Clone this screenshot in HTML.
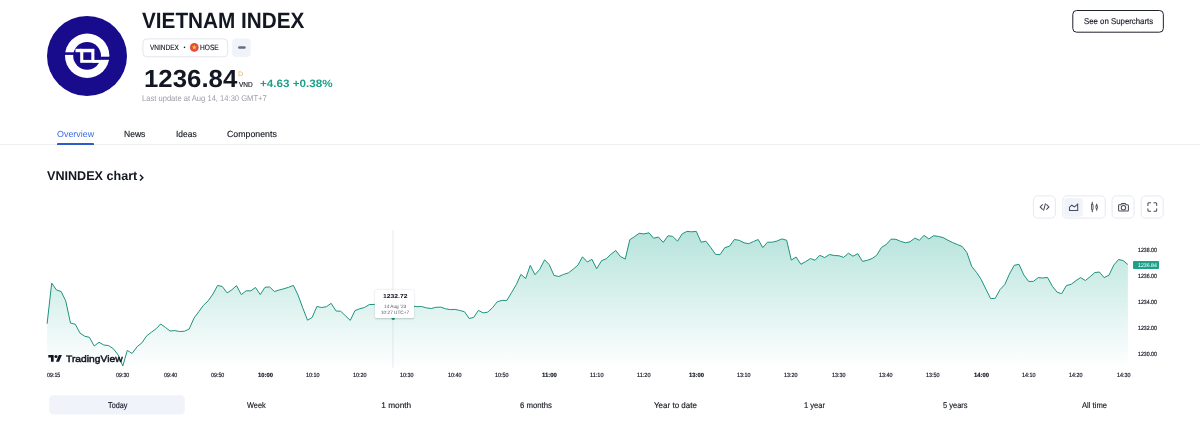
<!DOCTYPE html>
<html lang="en"><head><meta charset="utf-8"><title>VNINDEX — VIETNAM INDEX</title>
<style>
html,body{margin:0;padding:0;background:#fff;}
body{width:1200px;height:432px;position:relative;overflow:hidden;font-family:"Liberation Sans",sans-serif;color:#131722;text-rendering:geometricPrecision;}
.t{position:absolute;white-space:nowrap;display:block;margin:0;padding:0;font-weight:400;transform-origin:0 50%;}
.abs{position:absolute;box-sizing:border-box;}
svg{position:absolute;left:0;top:0;overflow:visible;}
#app{position:absolute;left:0;top:0;width:1200px;height:432px;will-change:transform;filter:blur(0.3px);}
</style></head><body><div id="app">

<header>
<svg width="1200" height="432" viewBox="0 0 1200 432">
<circle cx="87" cy="56" r="40" fill="#180b8c"/>
<circle cx="87.2" cy="55.8" r="22.2" fill="#fff"/>
<circle cx="87.1" cy="55.8" r="13.9" fill="#180b8c"/>
<rect x="64" y="52.3" width="17" height="2.6" fill="#180b8c"/>
<rect x="94" y="56.7" width="17" height="3.1" fill="#180b8c"/>
<rect x="75.5" y="48.8" width="6" height="3.4" fill="#fff"/>
<rect x="93" y="59.9" width="7.5" height="3" fill="#fff"/>
<rect x="80.2" y="48.8" width="14.2" height="14" fill="#fff"/>
<rect x="83.3" y="52.3" width="8" height="7.6" fill="#180b8c"/>
</svg>
<h1 class="t" style="left:142.40px;top:8.02px;font-size:22.09px;line-height:25px;color:#131722;font-weight:700;transform:scaleX(0.9390);">VIETNAM INDEX</h1>
<svg width="1200" height="432" viewBox="0 0 1200 432"><rect x="142.95" y="38.9" width="84.7" height="17.9" rx="4" fill="#fff" stroke="#e2e5ec" stroke-width="1"/><rect x="232.2" y="38.5" width="18.5" height="18.5" rx="4" fill="#f0f3fa"/><rect x="238.1" y="46.15" width="7.6" height="2.7" rx="1.35" fill="#6b6e7a"/><rect x="1072.8" y="10.5" width="90.55" height="21.7" rx="3.8" fill="#fff" stroke="#1e222d" stroke-width="1"/></svg>
<span class="t" style="left:149.62px;top:43.02px;font-size:7.7px;line-height:9px;color:#131722;transform:scaleX(0.8433);-webkit-text-stroke:0.14px #131722;">VNINDEX</span>
<svg width="1200" height="432" viewBox="0 0 1200 432">
<circle cx="184.5" cy="47.35" r="0.8" fill="#131722"/>
<circle cx="194.3" cy="47.4" r="4.35" fill="#e5483c"/>
<path d="M194.3 44.6l0.68 1.9h2l-1.62 1.2 0.6 1.95-1.66-1.18-1.66 1.18 0.6-1.95-1.62-1.2h2z" fill="#fbc740"/>
</svg>
<span class="t" style="left:200.42px;top:43.02px;font-size:7.7px;line-height:9px;color:#131722;transform:scaleX(0.8578);-webkit-text-stroke:0.14px #131722;">HOSE</span>
<span class="t" style="left:143.50px;top:66.02px;font-size:24.71px;line-height:27px;color:#131722;font-weight:700;transform:scaleX(1.0442);">1236.84</span>
<span class="t" style="left:238.27px;top:71.02px;font-size:6.4px;line-height:7px;color:#f5ad62;transform:scaleX(1.1292);">D</span>
<span class="t" style="left:239.42px;top:80.02px;font-size:7.27px;line-height:9px;color:#131722;transform:scaleX(0.8948);-webkit-text-stroke:0.14px #131722;">VND</span>
<span class="t" style="left:259.68px;top:78.02px;font-size:10.61px;line-height:12px;color:#1d9f8a;font-weight:700;transform:scaleX(1.0977);">+4.63 +0.38%</span>
<span class="t" style="left:141.74px;top:94.02px;font-size:8.28px;line-height:9px;color:#9b9ea8;transform:scaleX(0.9183);">Last update at Aug 14, 14:30 GMT+7</span>
<span class="t" style="left:1083.60px;top:16.02px;font-size:8.43px;line-height:10px;color:#131722;transform:scaleX(0.9290);-webkit-text-stroke:0.14px #131722;">See on Supercharts</span>
</header>
<nav>
<span class="t" style="left:56.65px;top:129.02px;font-size:8.87px;line-height:10px;color:#3a6be6;transform:scaleX(1.0058);">Overview</span>
<span class="t" style="left:124.07px;top:129.02px;font-size:8.87px;line-height:10px;color:#131722;transform:scaleX(0.9643);-webkit-text-stroke:0.14px #131722;">News</span>
<span class="t" style="left:175.89px;top:129.02px;font-size:8.87px;line-height:10px;color:#131722;transform:scaleX(0.9525);-webkit-text-stroke:0.14px #131722;">Ideas</span>
<span class="t" style="left:227.11px;top:129.02px;font-size:8.87px;line-height:10px;color:#131722;transform:scaleX(0.9911);-webkit-text-stroke:0.14px #131722;">Components</span>
<div class="abs" style="left:0;top:144px;width:1200px;height:1px;background:#eff0f4;"></div>
<div class="abs" style="left:56.9px;top:142.8px;width:37.1px;height:2.2px;background:#2b5cce;border-radius:1px 1px 0 0;"></div>
</nav>
<main>
<h2 class="t" style="left:47.39px;top:169.02px;font-size:12.65px;line-height:14px;color:#131722;font-weight:700;transform:scaleX(0.9962);">VNINDEX chart</h2>
<svg width="1200" height="432" viewBox="0 0 1200 432"><path d="M140 174.7l2.9 2.95-2.9 2.95" fill="none" stroke="#131722" stroke-width="1.4"/></svg>
<div role="toolbar"><svg width="1200" height="432" viewBox="0 0 1200 432">
<rect x="1033.40" y="195.90" width="22.00" height="22.20" rx="4.2" fill="#fff" stroke="#e6e8ef" stroke-width="1"/>
<rect x="1062.80" y="195.90" width="42.40" height="22.20" rx="4.2" fill="#fff" stroke="#e6e8ef" stroke-width="1"/>
<rect x="1064.20" y="197.95" width="18.60" height="18.70" rx="3" fill="#f0f3fa"/>
<rect x="1112.05" y="195.90" width="22.00" height="22.20" rx="4.2" fill="#fff" stroke="#e6e8ef" stroke-width="1"/>
<rect x="1141.20" y="195.90" width="22.00" height="22.20" rx="4.2" fill="#fff" stroke="#e6e8ef" stroke-width="1"/>
<g fill="none" stroke="#4a4d58" stroke-width="1.05" stroke-linejoin="round" stroke-linecap="round">
<path d="M1042.7 204.3l-2.5 2.65 2.5 2.65M1046.4 204.3l2.5 2.65-2.5 2.65M1045.5 203.3l-1.95 7.3" stroke-linecap="butt" stroke-linejoin="miter"/>
<path d="M1069.5 210.4v-3.2l2.3-2 2.7 1.7 3.2-2.7v6.2z" stroke-linejoin="miter"/>
<path d="M1092.3 202.3v1.9M1092.3 209.8v1.9M1096.7 204v1.6M1096.7 208.6v1.7"/>
<rect x="1091.55" y="204.3" width="1.5" height="5.5" rx="0.3" stroke-width="0.9"/>
<rect x="1095.95" y="205.6" width="1.5" height="3" rx="0.3" stroke-width="0.9"/>
<path d="M1118.6 205.6a0.8 0.8 0 0 1 0.8-0.8h1.5l0.8-1.2h3.6l0.8 1.2h1.5a0.8 0.8 0 0 1 0.8 0.8v4.6a0.8 0.8 0 0 1-0.8 0.8h-8.2a0.8 0.8 0 0 1-0.8-0.8z"/>
<circle cx="1123.45" cy="207.7" r="2.2"/>
<path d="M1147.9 205.4v-1.6a1 1 0 0 1 1-1h1.7M1154 202.8h1.7a1 1 0 0 1 1 1v1.6M1156.7 208.7v1.6a1 1 0 0 1-1 1h-1.7M1150.6 211.3h-1.7a1 1 0 0 1-1-1v-1.6"/>
</g></svg></div>
<svg width="1200" height="432" viewBox="0 0 1200 432">
<defs><linearGradient id="g" gradientUnits="userSpaceOnUse" x1="0" y1="226" x2="0" y2="368">
<stop offset="0" stop-color="#22ab94" stop-opacity="0.34"/><stop offset="1" stop-color="#22ab94" stop-opacity="0"/></linearGradient></defs>
<path d="M47.10,368 L47.10,323.75 L51.70,283.10 L56.50,290.00 L61.10,291.50 L65.70,300.80 L70.50,323.10 L75.25,324.20 L80.00,333.10 L84.80,336.25 L89.40,337.30 L94.20,346.00 L99.00,342.30 L103.80,345.00 L108.60,345.60 L113.40,348.75 L118.20,355.00 L122.75,366.00 L127.30,350.40 L132.10,353.50 L137.10,346.70 L141.90,342.90 L146.70,335.80 L151.30,332.30 L156.10,328.75 L160.70,324.00 L165.50,327.50 L170.00,331.00 L174.80,330.60 L179.60,331.50 L184.40,331.25 L189.20,329.00 L194.00,318.10 L198.80,311.70 L203.40,305.40 L208.20,300.80 L213.00,294.00 L217.60,285.40 L222.30,286.50 L227.10,292.90 L231.90,289.80 L236.50,285.60 L241.30,294.60 L246.10,290.80 L250.90,290.80 L255.50,287.50 L260.25,294.60 L265.00,287.30 L269.60,286.90 L274.40,291.50 L279.20,290.00 L283.80,288.75 L288.60,287.30 L293.40,285.40 L298.00,295.00 L302.75,307.90 L307.50,320.20 L312.10,317.50 L316.90,306.50 L321.70,307.50 L326.50,306.70 L331.10,303.30 L336.10,311.00 L340.70,311.25 L345.50,315.80 L350.25,320.40 L355.00,310.60 L359.80,308.75 L364.40,307.50 L369.20,304.60 L374.40,304.40 L379.00,304.80 L383.70,305.50 L388.50,308.00 L393.30,318.50 L398.00,309.00 L402.80,306.00 L407.60,305.80 L412.30,306.00 L417.10,306.70 L421.70,306.50 L426.50,307.90 L431.30,308.50 L435.90,307.30 L440.70,307.10 L445.50,308.75 L450.25,309.60 L454.80,309.40 L459.60,310.40 L464.40,311.70 L469.20,318.50 L473.80,317.30 L478.40,310.40 L483.20,312.90 L487.75,312.10 L492.50,307.70 L497.30,301.70 L502.10,300.40 L506.90,300.40 L511.50,292.70 L516.30,284.60 L520.90,274.40 L525.70,278.50 L530.25,265.40 L535.00,274.80 L539.80,269.20 L544.60,259.80 L549.20,264.60 L554.00,275.40 L558.80,276.50 L563.60,274.40 L568.40,272.90 L573.20,269.20 L577.90,265.20 L582.50,256.80 L587.30,262.00 L591.90,259.30 L596.70,268.70 L601.50,260.75 L606.30,258.70 L610.90,254.30 L615.70,250.50 L620.50,256.60 L625.25,259.10 L629.80,239.70 L634.60,236.60 L639.20,233.25 L644.00,233.90 L649.00,232.80 L653.60,238.25 L658.40,237.00 L663.20,242.40 L668.00,235.75 L672.75,236.40 L677.50,241.20 L682.10,233.90 L686.90,231.40 L691.70,231.80 L696.30,231.40 L701.10,242.20 L705.90,241.20 L710.70,247.40 L715.50,254.30 L720.00,254.70 L724.80,247.60 L729.60,246.20 L734.40,239.50 L739.20,240.30 L744.00,242.80 L748.60,243.70 L753.50,241.50 L758.20,239.50 L762.75,247.60 L767.50,242.20 L772.30,242.20 L777.10,241.00 L781.90,238.90 L786.70,240.30 L791.30,260.10 L796.10,257.00 L800.90,264.30 L805.70,261.60 L810.50,258.50 L815.00,260.30 L819.80,255.30 L824.60,257.60 L829.40,254.50 L834.20,255.50 L839.00,255.75 L843.60,257.40 L848.40,253.25 L853.00,256.20 L857.75,253.70 L862.50,261.40 L867.30,260.30 L872.10,258.50 L876.70,255.30 L881.50,247.40 L886.30,244.50 L891.10,239.10 L895.90,239.30 L900.70,241.40 L905.50,242.80 L910.00,241.80 L914.80,238.10 L919.40,240.30 L924.00,235.30 L928.80,238.90 L933.60,235.75 L938.40,236.40 L943.20,237.60 L948.00,240.30 L952.75,242.60 L957.30,244.50 L962.10,246.40 L966.90,252.60 L971.70,266.40 L976.50,272.40 L981.10,279.30 L985.90,289.10 L990.70,298.70 L995.25,298.25 L1000.00,289.70 L1004.80,284.50 L1009.40,274.10 L1014.20,265.30 L1019.00,264.30 L1023.80,274.90 L1028.60,281.40 L1033.40,281.40 L1038.20,277.60 L1042.75,278.00 L1047.50,277.40 L1052.30,286.20 L1057.10,292.20 L1061.70,293.70 L1066.40,285.50 L1071.20,284.30 L1076.00,280.60 L1080.60,277.60 L1085.40,280.50 L1090.10,276.70 L1094.80,272.60 L1099.40,272.00 L1104.20,277.60 L1109.00,275.10 L1113.75,265.10 L1118.50,259.50 L1123.10,260.50 L1127.90,264.50 L1127.90,368 Z" fill="url(#g)"/>
<polyline points="47.10,323.75 51.70,283.10 56.50,290.00 61.10,291.50 65.70,300.80 70.50,323.10 75.25,324.20 80.00,333.10 84.80,336.25 89.40,337.30 94.20,346.00 99.00,342.30 103.80,345.00 108.60,345.60 113.40,348.75 118.20,355.00 122.75,366.00 127.30,350.40 132.10,353.50 137.10,346.70 141.90,342.90 146.70,335.80 151.30,332.30 156.10,328.75 160.70,324.00 165.50,327.50 170.00,331.00 174.80,330.60 179.60,331.50 184.40,331.25 189.20,329.00 194.00,318.10 198.80,311.70 203.40,305.40 208.20,300.80 213.00,294.00 217.60,285.40 222.30,286.50 227.10,292.90 231.90,289.80 236.50,285.60 241.30,294.60 246.10,290.80 250.90,290.80 255.50,287.50 260.25,294.60 265.00,287.30 269.60,286.90 274.40,291.50 279.20,290.00 283.80,288.75 288.60,287.30 293.40,285.40 298.00,295.00 302.75,307.90 307.50,320.20 312.10,317.50 316.90,306.50 321.70,307.50 326.50,306.70 331.10,303.30 336.10,311.00 340.70,311.25 345.50,315.80 350.25,320.40 355.00,310.60 359.80,308.75 364.40,307.50 369.20,304.60 374.40,304.40 379.00,304.80 383.70,305.50 388.50,308.00 393.30,318.50 398.00,309.00 402.80,306.00 407.60,305.80 412.30,306.00 417.10,306.70 421.70,306.50 426.50,307.90 431.30,308.50 435.90,307.30 440.70,307.10 445.50,308.75 450.25,309.60 454.80,309.40 459.60,310.40 464.40,311.70 469.20,318.50 473.80,317.30 478.40,310.40 483.20,312.90 487.75,312.10 492.50,307.70 497.30,301.70 502.10,300.40 506.90,300.40 511.50,292.70 516.30,284.60 520.90,274.40 525.70,278.50 530.25,265.40 535.00,274.80 539.80,269.20 544.60,259.80 549.20,264.60 554.00,275.40 558.80,276.50 563.60,274.40 568.40,272.90 573.20,269.20 577.90,265.20 582.50,256.80 587.30,262.00 591.90,259.30 596.70,268.70 601.50,260.75 606.30,258.70 610.90,254.30 615.70,250.50 620.50,256.60 625.25,259.10 629.80,239.70 634.60,236.60 639.20,233.25 644.00,233.90 649.00,232.80 653.60,238.25 658.40,237.00 663.20,242.40 668.00,235.75 672.75,236.40 677.50,241.20 682.10,233.90 686.90,231.40 691.70,231.80 696.30,231.40 701.10,242.20 705.90,241.20 710.70,247.40 715.50,254.30 720.00,254.70 724.80,247.60 729.60,246.20 734.40,239.50 739.20,240.30 744.00,242.80 748.60,243.70 753.50,241.50 758.20,239.50 762.75,247.60 767.50,242.20 772.30,242.20 777.10,241.00 781.90,238.90 786.70,240.30 791.30,260.10 796.10,257.00 800.90,264.30 805.70,261.60 810.50,258.50 815.00,260.30 819.80,255.30 824.60,257.60 829.40,254.50 834.20,255.50 839.00,255.75 843.60,257.40 848.40,253.25 853.00,256.20 857.75,253.70 862.50,261.40 867.30,260.30 872.10,258.50 876.70,255.30 881.50,247.40 886.30,244.50 891.10,239.10 895.90,239.30 900.70,241.40 905.50,242.80 910.00,241.80 914.80,238.10 919.40,240.30 924.00,235.30 928.80,238.90 933.60,235.75 938.40,236.40 943.20,237.60 948.00,240.30 952.75,242.60 957.30,244.50 962.10,246.40 966.90,252.60 971.70,266.40 976.50,272.40 981.10,279.30 985.90,289.10 990.70,298.70 995.25,298.25 1000.00,289.70 1004.80,284.50 1009.40,274.10 1014.20,265.30 1019.00,264.30 1023.80,274.90 1028.60,281.40 1033.40,281.40 1038.20,277.60 1042.75,278.00 1047.50,277.40 1052.30,286.20 1057.10,292.20 1061.70,293.70 1066.40,285.50 1071.20,284.30 1076.00,280.60 1080.60,277.60 1085.40,280.50 1090.10,276.70 1094.80,272.60 1099.40,272.00 1104.20,277.60 1109.00,275.10 1113.75,265.10 1118.50,259.50 1123.10,260.50 1127.90,264.50" fill="none" stroke="#1d917e" stroke-width="1" stroke-linejoin="round"/>
<line x1="392.9" y1="230" x2="392.9" y2="367.8" stroke="#9aa2b5" stroke-opacity="0.18" stroke-width="1.2"/>
<circle cx="393.2" cy="318.4" r="1.7" fill="#1d9f8a"/>
</svg>
<div class="abs" style="left:375px;top:290px;width:39px;height:28px;background:#fff;border-radius:1.5px;box-shadow:0 0.5px 2px rgba(0,0,0,0.2);"></div>
<span class="t" style="left:382.74px;top:294.02px;font-size:5.74px;line-height:6px;color:#131722;font-weight:700;transform:scaleX(1.1846);">1232.72</span>
<span class="t" style="left:384.09px;top:305.02px;font-size:4.8px;line-height:5px;color:#50535e;transform:scaleX(0.9871);">14 Aug '23</span>
<span class="t" style="left:380.90px;top:311.02px;font-size:4.8px;line-height:5px;color:#50535e;transform:scaleX(0.9793);">10:27 UTC+7</span>
<span class="t" style="left:1137.96px;top:248.02px;font-size:5.96px;line-height:6px;color:#131722;transform:scaleX(0.8808);-webkit-text-stroke:0.18px #131722;">1238.00</span>
<span class="t" style="left:1137.96px;top:274.02px;font-size:5.96px;line-height:6px;color:#131722;transform:scaleX(0.8808);-webkit-text-stroke:0.18px #131722;">1236.00</span>
<span class="t" style="left:1137.96px;top:300.02px;font-size:5.96px;line-height:6px;color:#131722;transform:scaleX(0.8808);-webkit-text-stroke:0.18px #131722;">1234.00</span>
<span class="t" style="left:1137.96px;top:326.02px;font-size:5.96px;line-height:6px;color:#131722;transform:scaleX(0.8808);-webkit-text-stroke:0.18px #131722;">1232.00</span>
<span class="t" style="left:1137.96px;top:352.02px;font-size:5.96px;line-height:6px;color:#131722;transform:scaleX(0.8808);-webkit-text-stroke:0.18px #131722;">1230.00</span>
<div class="abs" style="left:1133px;top:261.1px;width:26.2px;height:7.7px;background:#1d9f8a;border-radius:0.8px;"></div>
<span class="t" style="left:1138.06px;top:263.02px;font-size:5.52px;line-height:6px;color:#fff;transform:scaleX(0.9445);">1236.84</span>
<span class="t" style="left:46.94px;top:372.02px;font-size:6.1px;line-height:7px;color:#131722;transform:scaleX(0.8739);-webkit-text-stroke:0.18px #131722;">09:15</span>
<span class="t" style="left:116.04px;top:372.02px;font-size:6.1px;line-height:7px;color:#131722;transform:scaleX(0.8721);-webkit-text-stroke:0.18px #131722;">09:30</span>
<span class="t" style="left:163.54px;top:372.02px;font-size:6.1px;line-height:7px;color:#131722;transform:scaleX(0.8721);-webkit-text-stroke:0.18px #131722;">09:40</span>
<span class="t" style="left:210.84px;top:372.02px;font-size:6.1px;line-height:7px;color:#131722;transform:scaleX(0.8721);-webkit-text-stroke:0.18px #131722;">09:50</span>
<span class="t" style="left:257.50px;top:372.02px;font-size:6.1px;line-height:7px;color:#131722;font-weight:700;transform:scaleX(0.9549);-webkit-text-stroke:0.18px #131722;">10:00</span>
<span class="t" style="left:305.65px;top:372.02px;font-size:6.1px;line-height:7px;color:#131722;transform:scaleX(0.8848);-webkit-text-stroke:0.18px #131722;">10:10</span>
<span class="t" style="left:353.15px;top:372.02px;font-size:6.1px;line-height:7px;color:#131722;transform:scaleX(0.8848);-webkit-text-stroke:0.18px #131722;">10:20</span>
<span class="t" style="left:400.45px;top:372.02px;font-size:6.1px;line-height:7px;color:#131722;transform:scaleX(0.8848);-webkit-text-stroke:0.18px #131722;">10:30</span>
<span class="t" style="left:448.15px;top:372.02px;font-size:6.1px;line-height:7px;color:#131722;transform:scaleX(0.8848);-webkit-text-stroke:0.18px #131722;">10:40</span>
<span class="t" style="left:495.45px;top:372.02px;font-size:6.1px;line-height:7px;color:#131722;transform:scaleX(0.8848);-webkit-text-stroke:0.18px #131722;">10:50</span>
<span class="t" style="left:542.19px;top:372.02px;font-size:6.1px;line-height:7px;color:#131722;font-weight:700;transform:scaleX(0.9768);-webkit-text-stroke:0.18px #131722;">11:00</span>
<span class="t" style="left:590.13px;top:372.02px;font-size:6.1px;line-height:7px;color:#131722;transform:scaleX(0.9135);-webkit-text-stroke:0.18px #131722;">11:10</span>
<span class="t" style="left:637.43px;top:372.02px;font-size:6.1px;line-height:7px;color:#131722;transform:scaleX(0.9135);-webkit-text-stroke:0.18px #131722;">11:20</span>
<span class="t" style="left:688.80px;top:372.02px;font-size:6.1px;line-height:7px;color:#131722;font-weight:700;transform:scaleX(0.9549);-webkit-text-stroke:0.18px #131722;">13:00</span>
<span class="t" style="left:736.85px;top:372.02px;font-size:6.1px;line-height:7px;color:#131722;transform:scaleX(0.8848);-webkit-text-stroke:0.18px #131722;">13:10</span>
<span class="t" style="left:784.15px;top:372.02px;font-size:6.1px;line-height:7px;color:#131722;transform:scaleX(0.8848);-webkit-text-stroke:0.18px #131722;">13:20</span>
<span class="t" style="left:831.85px;top:372.02px;font-size:6.1px;line-height:7px;color:#131722;transform:scaleX(0.8848);-webkit-text-stroke:0.18px #131722;">13:30</span>
<span class="t" style="left:879.45px;top:372.02px;font-size:6.1px;line-height:7px;color:#131722;transform:scaleX(0.8848);-webkit-text-stroke:0.18px #131722;">13:40</span>
<span class="t" style="left:926.45px;top:372.02px;font-size:6.1px;line-height:7px;color:#131722;transform:scaleX(0.8848);-webkit-text-stroke:0.18px #131722;">13:50</span>
<span class="t" style="left:973.50px;top:372.02px;font-size:6.1px;line-height:7px;color:#131722;font-weight:700;transform:scaleX(0.9549);-webkit-text-stroke:0.18px #131722;">14:00</span>
<span class="t" style="left:1021.85px;top:372.02px;font-size:6.1px;line-height:7px;color:#131722;transform:scaleX(0.8848);-webkit-text-stroke:0.18px #131722;">14:10</span>
<span class="t" style="left:1069.15px;top:372.02px;font-size:6.1px;line-height:7px;color:#131722;transform:scaleX(0.8848);-webkit-text-stroke:0.18px #131722;">14:20</span>
<span class="t" style="left:1116.55px;top:372.02px;font-size:6.1px;line-height:7px;color:#131722;transform:scaleX(0.8848);-webkit-text-stroke:0.18px #131722;">14:30</span>
<svg width="1200" height="432" viewBox="0 0 1200 432"><g transform="translate(48.3 353.4) scale(0.383)" fill="#131722">
<path d="M14 22H7V11H0V4h14v18zM28 22h-8l7.5-18h8L28 22z"/><circle cx="20" cy="8" r="4"/></g></svg>
<span class="t" style="left:65.94px;top:354.02px;font-size:9.3px;line-height:10px;color:#131722;transform:scaleX(1.1076);-webkit-text-stroke:0.45px #131722;">TradingView</span>
<svg width="1200" height="432" viewBox="0 0 1200 432"><rect x="49.2" y="395.25" width="135.6" height="19.2" rx="4.2" fill="#f0f3fa"/></svg>
<span class="t" style="left:107.60px;top:401.02px;font-size:8.28px;line-height:9px;color:#131722;transform:scaleX(0.8796);-webkit-text-stroke:0.14px #131722;">Today</span>
<span class="t" style="left:246.91px;top:401.02px;font-size:8.28px;line-height:9px;color:#131722;transform:scaleX(0.8909);-webkit-text-stroke:0.14px #131722;">Week</span>
<span class="t" style="left:381.33px;top:401.02px;font-size:8.28px;line-height:9px;color:#131722;-webkit-text-stroke:0.14px #131722;">1 month</span>
<span class="t" style="left:519.71px;top:401.02px;font-size:8.28px;line-height:9px;color:#131722;transform:scaleX(0.9410);-webkit-text-stroke:0.14px #131722;">6 months</span>
<span class="t" style="left:653.90px;top:401.02px;font-size:8.28px;line-height:9px;color:#131722;transform:scaleX(0.9689);-webkit-text-stroke:0.14px #131722;">Year to date</span>
<span class="t" style="left:804.28px;top:401.02px;font-size:8.28px;line-height:9px;color:#131722;transform:scaleX(0.9131);-webkit-text-stroke:0.14px #131722;">1 year</span>
<span class="t" style="left:942.50px;top:401.02px;font-size:8.28px;line-height:9px;color:#131722;transform:scaleX(0.9044);-webkit-text-stroke:0.14px #131722;">5 years</span>
<span class="t" style="left:1081.85px;top:401.02px;font-size:8.28px;line-height:9px;color:#131722;transform:scaleX(0.9236);-webkit-text-stroke:0.14px #131722;">All time</span>
</main>
</div></body></html>
